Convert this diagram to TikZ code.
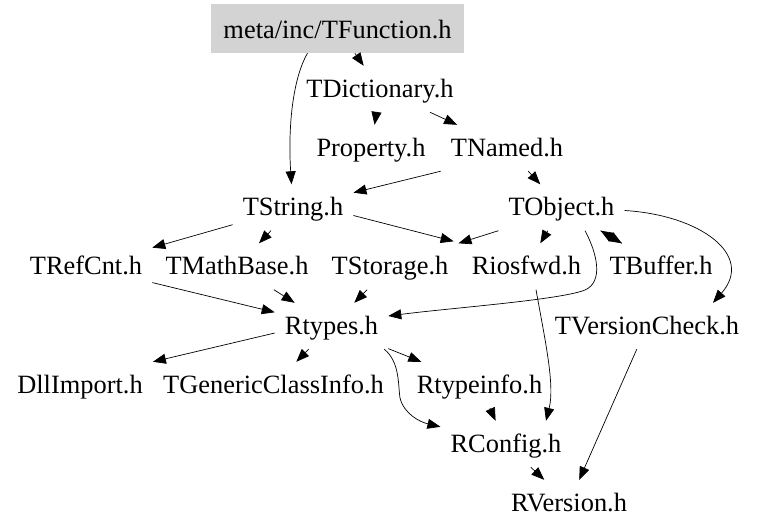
\documentclass[tikz,border=0pt]{standalone}
\usepackage{fontspec}
\setmainfont{Liberation Serif}
\usetikzlibrary{arrows.meta}
\definecolor{rootfill}{RGB}{211,211,211}
\begin{document}
\begin{tikzpicture}[x=1pt,y=-1pt,
  file/.style={anchor=base, inner xsep=10pt, inner ysep=9pt, text height=22pt, text depth=6pt, font=\fontsize{26.4pt}{30pt}\selectfont},
  rootfile/.style={file, fill=rootfill, inner xsep=12pt, text height=25pt},
  edge/.style={line width=0.7pt, -{Triangle[length=13pt,width=10pt]}}]
\fill[white] (0,0) rectangle (757,528);
\useasboundingbox (0,0) rectangle (757,528);
\node[rootfile] (tfunc) at (337.5,38) {meta/inc/TFunction.h};
\node[file] (tdict) at (380,97) {TDictionary.h};
\node[file] (property) at (371,156) {Property.h};
\node[file] (tnamed) at (507,156) {TNamed.h};
\node[file] (tstring) at (293,215.5) {TString.h};
\node[file] (tobject) at (561.5,215.5) {TObject.h};
\node[file] (trefcnt) at (86,274.5) {TRefCnt.h};
\node[file] (tmathbase) at (237,274.5) {TMathBase.h};
\node[file] (tstorage) at (390,274.5) {TStorage.h};
\node[file] (riosfwd) at (526.5,274.5) {Riosfwd.h};
\node[file] (tbuffer) at (661,274.5) {TBuffer.h};
\node[file] (rtypes) at (331.5,334) {Rtypes.h};
\node[file] (tversion) at (647,334) {TVersionCheck.h};
\node[file] (dllimport) at (80,393) {DllImport.h};
\node[file] (tgci) at (273.5,393) {TGenericClassInfo.h};
\node[file] (rtypeinfo) at (479.5,393) {Rtypeinfo.h};
\node[file] (rconfig) at (506,452) {RConfig.h};
\node[file] (rversion) at (569,511) {RVersion.h};

\draw[edge] (tfunc) -- (tdict);
\draw[edge] ([xshift=-30pt]tfunc.south) .. controls (292,80) and (288,130) .. (tstring);
\draw[edge] (tdict) -- (property);
\draw[edge] (tdict) -- (tnamed);
\draw[edge] (tnamed.south west) -- (tstring);
\draw[edge] (tnamed) -- (tobject);
\draw[edge] (tstring) -- (trefcnt);
\draw[edge] (tstring) -- (tmathbase);
\draw[edge] ([yshift=-8pt]tstring.east) -- ([xshift=-8pt,yshift=2pt]riosfwd.north west);
\draw[edge] (tobject.south west) -- (tstorage.north east);
\draw[edge] (tobject) -- (riosfwd);
\draw[edge] (tobject) -- (tbuffer);
\draw[edge] (tbuffer) -- (tobject);
\draw[edge] ([yshift=-3pt]tobject.east) .. controls (700,215) and (755,255) .. ([xshift=66pt]tversion.north);
\draw[edge] ([xshift=23.5pt]tobject.south) .. controls (598,255) and (603,282) .. (585,290) .. controls (560,300) and (450,308) .. ([yshift=10pt]rtypes.east);
\draw[edge] (trefcnt) -- (rtypes);
\draw[edge] (tmathbase) -- (rtypes);
\draw[edge] (tstorage) -- (rtypes);
\draw[edge] ([yshift=-7pt]rtypes.west) -- (dllimport.north east);
\draw[edge] (rtypes) -- (tgci);
\draw[edge] (rtypes) -- (rtypeinfo);
\draw[edge] ([xshift=-4pt]rtypes.south east) .. controls (400,362) and (398,385) .. (400,398) .. controls (404,414) and (420,422) .. ([yshift=-6pt]rconfig.north west);
\draw[edge] (rtypeinfo) -- (rconfig);
\draw[edge] ([xshift=9.5pt]riosfwd.south) .. controls (545,340) and (555,385) .. ([xshift=40pt]rconfig.north);
\draw[edge] (tversion) -- (rversion);
\draw[edge] (rconfig) -- (rversion);
\end{tikzpicture}
\end{document}
